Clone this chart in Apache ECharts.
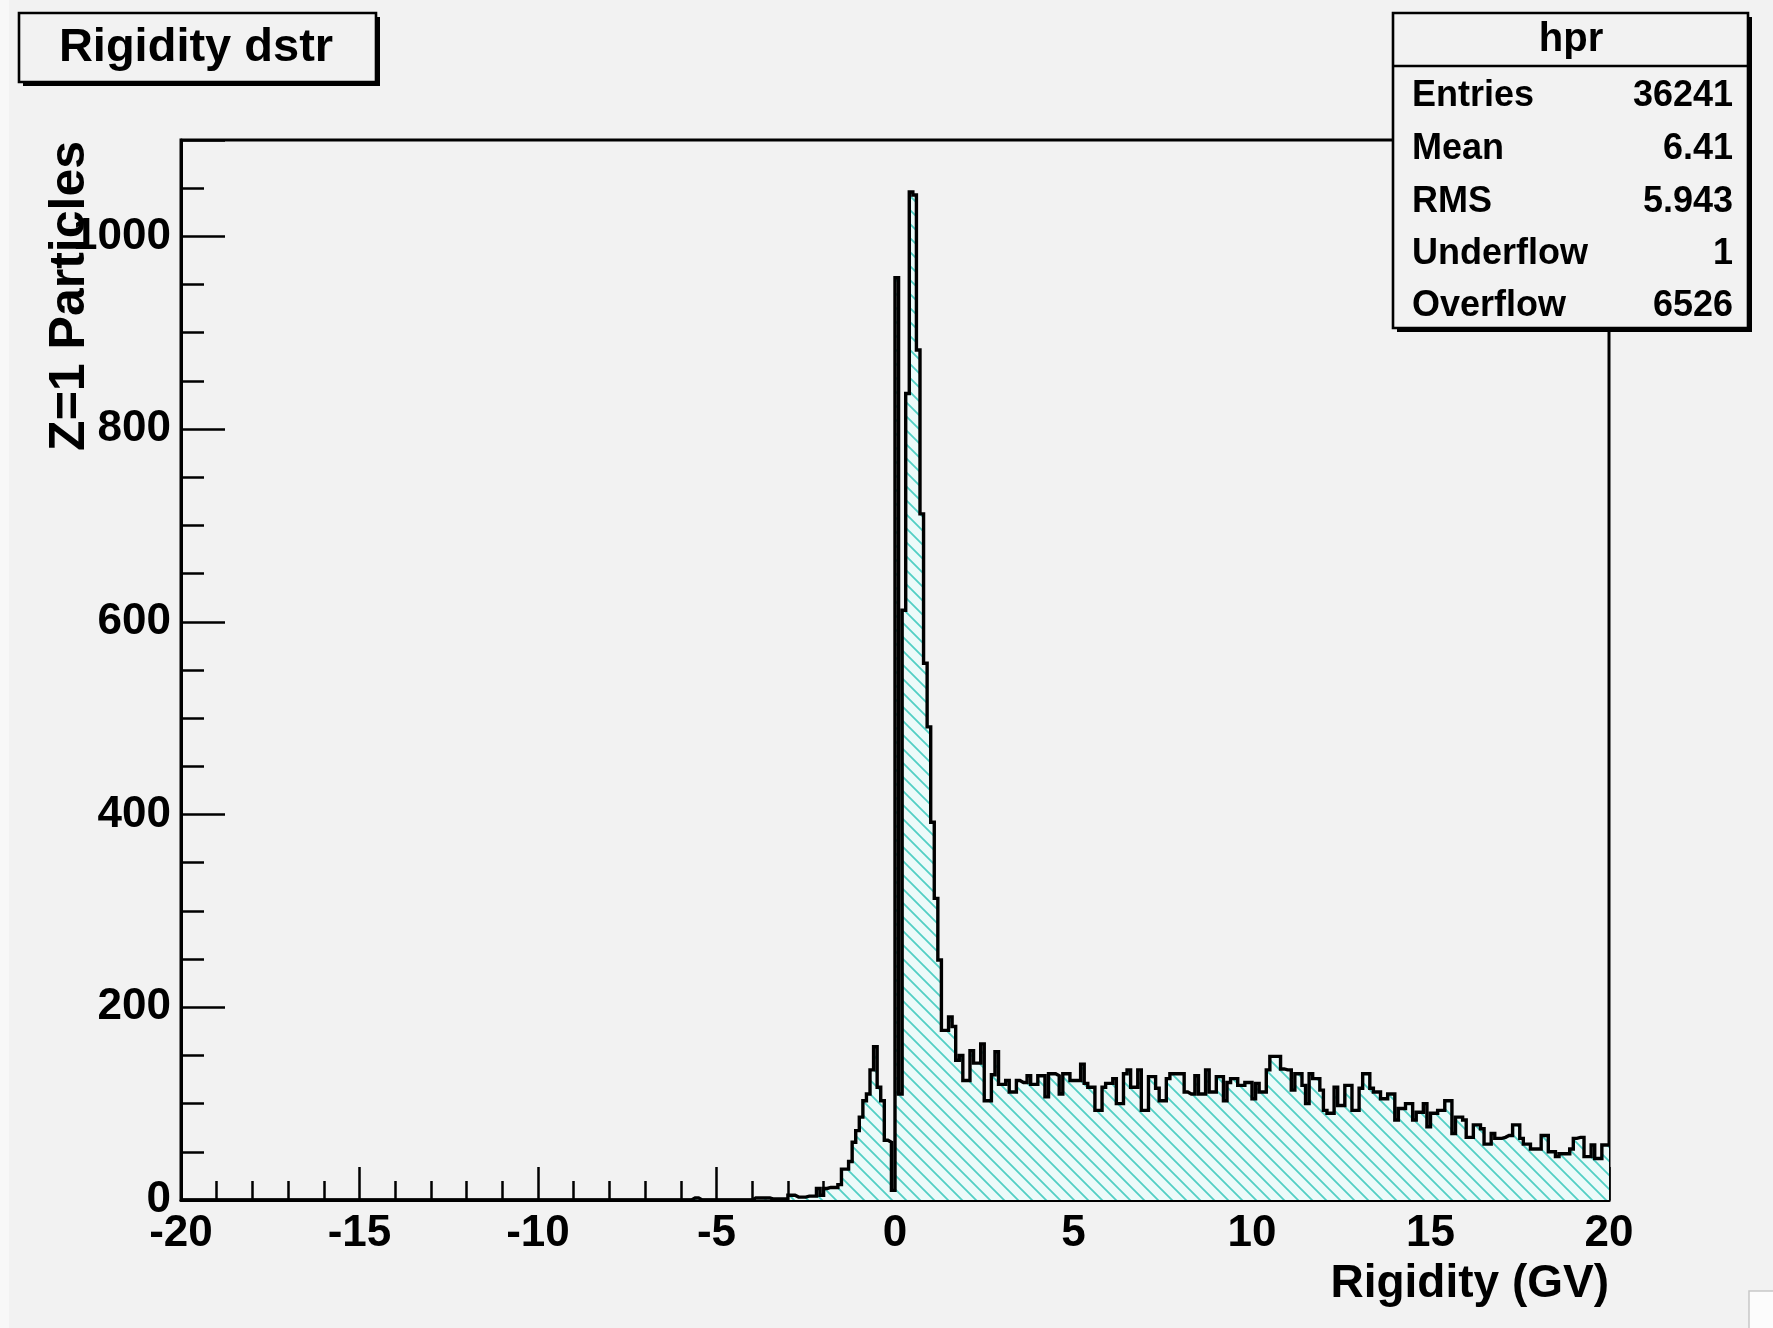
<!DOCTYPE html>
<html>
<head>
<meta charset="utf-8">
<title>Rigidity dstr</title>
<script src="https://cdn.jsdelivr.net/npm/echarts@6.0.0/dist/echarts.min.js"></script>
<style>
  html, body { margin: 0; padding: 0; background: #f2f2f2; }
  #chart { width: 1773px; height: 1328px; }
</style>
</head>
<body>
<div id="chart"></div>
<script>
// histogram "hpr": 400 bins of 0.1 GV between -20 and 20
var binRange = [-20, 20];

// counts for bins -20.0 ... -0.1 (one row = 1 GV)
var countsNeg = [
  0, 0, 0, 0, 0, 0, 0, 0, 0, 0,      // -20
  0, 0, 0, 0, 0, 0, 0, 0, 0, 0,      // -19
  0, 0, 0, 0, 0, 0, 0, 0, 0, 0,      // -18
  0, 0, 0, 0, 0, 0, 0, 0, 0, 0,      // -17
  0, 0, 0, 0, 0, 0, 0, 0, 0, 0,      // -16
  0, 0, 0, 0, 0, 0, 0, 0, 0, 0,      // -15
  0, 0, 0, 0, 0, 0, 0, 0, 0, 0,      // -14
  0, 0, 0, 0, 0, 0, 0, 0, 0, 0,      // -13
  0, 0, 0, 0, 0, 0, 0, 0, 0, 0,      // -12
  0, 0, 0, 0, 0, 0, 0, 0, 0, 0,      // -11
  0, 0, 0, 0, 0, 0, 0, 0, 0, 0,      // -10
  0, 0, 0, 0, 0, 0, 0, 0, 0, 0,      // -9
  0, 0, 0, 0, 0, 0, 0, 0, 0, 0,      // -8
  0, 0, 0, 0, 0, 0, 0, 0, 0, 0,      // -7
  0, 0, 0, 2, 2, 0, 0, 0, 0, 0,      // -6
  0, 0, 0, 0, 0, 0, 0, 0, 0, 0,      // -5
  2, 2, 2, 2, 2, 1, 1, 1, 1, 1,      // -4
  5, 5, 3, 3, 3, 4, 4, 4, 12, 5,     // -3
  12, 13, 13, 13, 16, 32, 32, 40, 60, 72,       // -2
  86, 103, 110, 135, 159, 117, 103, 62, 60, 10  // -1
];

// counts for bins 0.0 ... 19.9
var countsPos = [
  957, 110, 612, 837, 1046, 1043, 882, 712, 557, 491,  // 0
  392, 313, 249, 176, 176, 190, 180, 145, 150, 124,    // 1
  124, 155, 142, 142, 162, 103, 103, 130, 154, 120,    // 2
  120, 124, 112, 112, 124, 122, 122, 129, 120, 120,    // 3
  129, 129, 107, 131, 131, 129, 110, 131, 131, 124,    // 4
  124, 124, 141, 121, 117, 117, 93, 93, 117, 121,      // 5
  121, 126, 100, 100, 131, 135, 117, 117, 135, 93,     // 6
  93, 128, 128, 116, 103, 103, 126, 131, 131, 131,     // 7
  131, 112, 110, 110, 129, 110, 110, 135, 112, 112,    // 8
  128, 128, 103, 122, 126, 126, 119, 119, 122, 122,    // 9
  105, 121, 112, 112, 135, 149, 149, 149, 136, 135,    // 10
  135, 114, 131, 131, 119, 100, 131, 126, 126, 114,    // 11
  93, 90, 90, 117, 98, 98, 119, 119, 93, 93,           // 12
  116, 131, 131, 116, 112, 112, 105, 105, 110, 110,    // 13
  83, 95, 95, 100, 100, 83, 91, 91, 100, 76,           // 14
  90, 90, 93, 93, 103, 103, 69, 86, 86, 83,            // 15
  65, 65, 78, 78, 74, 58, 58, 69, 64, 64,              // 16
  65, 67, 67, 78, 78, 64, 58, 58, 53, 53,              // 17
  53, 67, 67, 50, 50, 45, 48, 48, 48, 53,              // 18
  64, 65, 65, 45, 45, 57, 43, 43, 57, 57               // 19
];

var yRange = [0, 1100];
var statsTitle = 'hpr';
var statsNames = ['Entries', 'Mean', 'RMS', 'Underflow', 'Overflow'];
var statsValues = ['36241', '6.41', '5.943', '1', '6526'];

var FONT = "'Liberation Sans', Arial, Helvetica, sans-serif";

// step points at the left edge of every bin, plus the right end
var counts = countsNeg.concat(countsPos);
var binWidth = (binRange[1] - binRange[0]) / counts.length;
var steps = counts.map(function (c, i) {
  return [binRange[0] + i * binWidth, c];
});
steps.push([binRange[1], counts[counts.length - 1]]);

// cyan "\\\\" hatch like ROOT fill style
function hatchTile() {
  var s = 14;
  var c = document.createElement('canvas');
  c.width = s; c.height = s;
  var g = c.getContext('2d');
  g.fillStyle = '#ecfaf9';
  g.fillRect(0, 0, s, s);
  g.strokeStyle = '#52cfc4';
  g.lineWidth = 1.8;
  g.beginPath();
  g.moveTo(-1, -1); g.lineTo(s + 1, s + 1);
  g.moveTo(-1, s - 1); g.lineTo(1, s + 1);
  g.moveTo(s - 1, -1); g.lineTo(s + 1, 1);
  g.stroke();
  return c;
}

function txt(x, y, text, size, align, extra) {
  var el = {
    type: 'text', x: x, y: y, z: 120,
    style: {
      text: text, fill: '#000',
      font: 'bold ' + size + 'px ' + FONT,
      align: align, textAlign: align,
      verticalAlign: 'middle', textVerticalAlign: 'middle'
    }
  };
  if (extra) { for (var k in extra) el[k] = extra[k]; }
  return el;
}

var graphics = [
  // title pave with shadow
  { type: 'rect', z: 110, shape: { x: 23, y: 17, width: 357, height: 69 }, style: { fill: '#000' } },
  { type: 'rect', z: 111, shape: { x: 19, y: 13, width: 357, height: 69 }, style: { fill: '#f2f2f2', stroke: '#000', lineWidth: 2.6 } },
  txt(196, 48, 'Rigidity dstr', 47, 'center'),
  // stats box with shadow
  { type: 'rect', z: 110, shape: { x: 1397, y: 17, width: 355, height: 315 }, style: { fill: '#000' } },
  { type: 'rect', z: 111, shape: { x: 1393, y: 13, width: 355, height: 315 }, style: { fill: '#f2f2f2', stroke: '#000', lineWidth: 2.6 } },
  { type: 'line', z: 112, shape: { x1: 1393, y1: 66, x2: 1748, y2: 66 }, style: { stroke: '#000', lineWidth: 2.4 } },
  txt(1571, 40, statsTitle, 40, 'center'),
  // axis titles
  txt(70, 141, 'Z=1 Particles', 50, 'right', { rotation: Math.PI / 2 }),
  txt(1609, 1284, 'Rigidity (GV)', 46, 'right'),
  // faint strip / corner of the canvas edge
  { type: 'rect', z: 1, shape: { x: 0, y: 0, width: 9, height: 1328 }, style: { fill: '#f8f8f8' } },
  { type: 'rect', z: 1, shape: { x: 1749, y: 1291, width: 40, height: 50 }, style: { fill: '#fcfcfc', stroke: '#c8c8c8', lineWidth: 1.5 } }
];
var rowY = [96, 149, 202, 254, 306];
statsNames.forEach(function (n, i) {
  graphics.push(txt(1412, rowY[i], n, 36, 'left'));
  graphics.push(txt(1733, rowY[i], statsValues[i], 36, 'right'));
});

var labelStyle = { color: '#000', fontFamily: FONT, fontWeight: 'bold', fontSize: 44 };

var chart = echarts.init(document.getElementById('chart'), null, { renderer: 'canvas' });
chart.setOption({
  backgroundColor: '#f2f2f2',
  animation: false,
  grid: {
    left: 181, right: 164, top: 140, bottom: 128,
    show: true, borderColor: '#000', borderWidth: 3, backgroundColor: 'transparent'
  },
  xAxis: {
    type: 'value', min: binRange[0], max: binRange[1], interval: 5,
    axisLine: { onZero: false, lineStyle: { color: '#000', width: 3 } },
    axisTick: { inside: true, length: 33, lineStyle: { color: '#000', width: 2.5 } },
    minorTick: { show: true, splitNumber: 5, length: 19, lineStyle: { color: '#000', width: 2.5 } },
    axisLabel: Object.assign({ margin: 12, showMinLabel: true, showMaxLabel: true }, labelStyle),
    splitLine: { show: false },
    minorSplitLine: { show: false }
  },
  yAxis: [
    {
      type: 'value', min: yRange[0], max: yRange[1], interval: 200,
      axisLine: { show: true, onZero: false, lineStyle: { color: '#000', width: 3 } },
      axisTick: { inside: true, length: 44, lineStyle: { color: '#000', width: 2.5 } },
      axisLabel: Object.assign({
        margin: 10,
        formatter: function (v) { return v > 1000 ? '' : String(v); }
      }, labelStyle),
      splitLine: { show: false }
    },
    {
      // minor ticks every 50
      type: 'value', min: yRange[0], max: yRange[1], interval: 50,
      position: 'left', offset: 0,
      axisLine: { show: false, onZero: false },
      axisTick: { show: true, inside: true, length: 23, lineStyle: { color: '#000', width: 2.5 } },
      axisLabel: { show: false },
      splitLine: { show: false }
    }
  ],
  series: [{
    type: 'line',
    data: steps,
    step: 'end',
    symbol: 'none',
    yAxisIndex: 0,
    z: 3,
    lineStyle: { color: '#000', width: 3.4, join: 'miter', cap: 'butt' },
    areaStyle: { color: { image: hatchTile(), repeat: 'repeat' }, opacity: 1 }
  }],
  graphic: graphics
});
</script>
</body>
</html>
